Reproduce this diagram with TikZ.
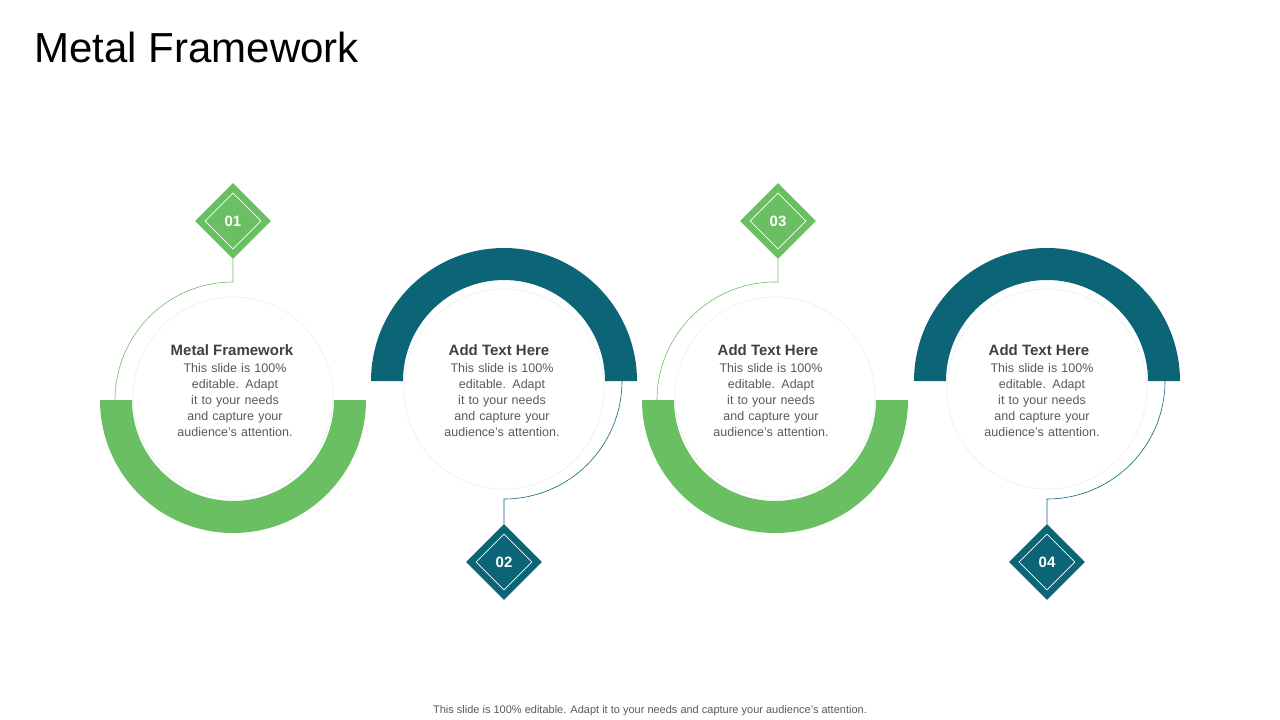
\documentclass[tikz,border=0pt]{standalone}
\usepackage{fontspec}
\setmainfont{Liberation Sans}
\usetikzlibrary{shapes.geometric}
\definecolor{gr}{HTML}{6ABF62}
\definecolor{tl}{HTML}{0B6577}
\definecolor{hd}{HTML}{404040}
\definecolor{bd}{HTML}{595959}
\tikzset{x=1pt,y=-1pt,
 dia/.style={diamond,minimum width=76pt,minimum height=76pt,inner sep=0pt,font=\bfseries\fontsize{15}{15}\selectfont,text=white},
 inner/.style={diamond,draw=white,line width=0.6pt,minimum width=56pt,minimum height=56pt,inner sep=0pt},
 txt/.style={align=center,text width=128pt,font=\fontsize{12.5}{16}\selectfont,text=bd,anchor=north},
 hdr/.style={font=\bfseries\fontsize{15}{15}\selectfont,text=hd}}
\begin{document}
\begin{tikzpicture}
\useasboundingbox (0,0) rectangle (1280,720);
\node[anchor=west,font=\fontsize{42}{42}\selectfont] (title) at (31,47) {Metal Framework};
% faint circles
\foreach \x/\y in {233/397,504/389,775/397,1047/389}{\draw[gray!12,line width=0.8pt] (\x,\y) circle (100);}
% rings
\fill[gr] (100,400) arc[start angle=180,end angle=0,radius=133] -- (334,400) arc[start angle=0,end angle=180,radius=101] -- cycle;
\fill[gr] (642,400) arc[start angle=180,end angle=0,radius=133] -- (876,400) arc[start angle=0,end angle=180,radius=101] -- cycle;
\fill[tl] (371,381) arc[start angle=180,end angle=360,radius=133] -- (605,381) arc[start angle=360,end angle=180,radius=101] -- cycle;
\fill[tl] (914,381) arc[start angle=180,end angle=360,radius=133] -- (1148,381) arc[start angle=360,end angle=180,radius=101] -- cycle;
% diamonds
\node[dia,fill=gr] (d1) at (233,221) {01}; \node[inner] at (d1) {};
\node[dia,fill=tl] (d2) at (504,562) {02}; \node[inner] at (d2) {};
\node[dia,fill=gr] (d3) at (778,221) {03}; \node[inner] at (d3) {};
\node[dia,fill=tl] (d4) at (1047,562) {04}; \node[inner] at (d4) {};
% connectors
\coordinate (c1) at (115,400); \coordinate (c2) at (622,381);
\coordinate (c3) at (657,400); \coordinate (c4) at (1165,381);
\draw[gr,line width=0.6pt] (c1) arc[start angle=180,end angle=270,radius=118] -- (d1.south);
\draw[tl,line width=0.6pt] (c2) arc[start angle=0,end angle=90,radius=118] -- (d2.north);
\draw[gr,line width=0.6pt] (c3) arc[start angle=180,end angle=270,radius=118] -| (d3.south);
\draw[tl,line width=0.6pt] (c4) arc[start angle=0,end angle=90,radius=118] -- (d4.north);
% texts
\foreach \n/\x/\h in {1/232/Metal Framework,2/499/Add Text Here,3/768/Add Text Here,4/1039/Add Text Here}{
 \node[hdr] (h\n) at (\x,350) {\h};
 \node[txt] (t\n) at (\x+3,360) {This slide is 100\% editable. Adapt it to your needs and capture your audience's attention.};
}
\node[font=\fontsize{11}{11}\selectfont,text=bd] (foot) at (650,711) {This slide is 100\% editable. Adapt it to your needs and capture your audience's attention.};
\end{tikzpicture}
\end{document}
